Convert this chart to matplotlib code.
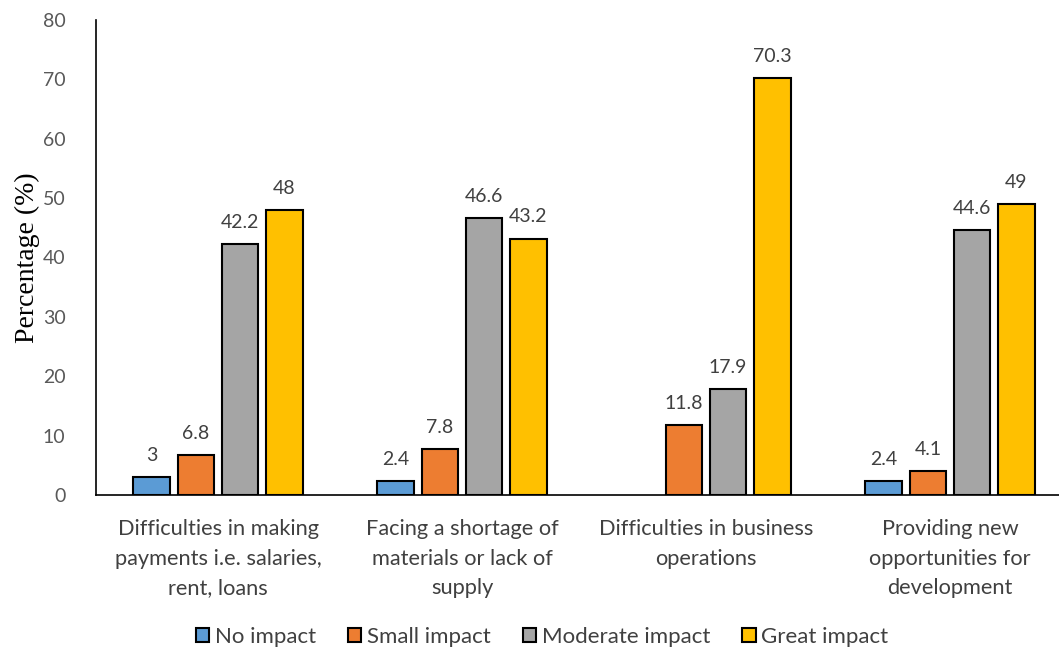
import matplotlib
matplotlib.use("Agg")
import matplotlib.pyplot as plt
import numpy as np

categories = ["Difficulties in making\npayments i.e. salaries,\nrent, loans",
              "Facing a shortage of\nmaterials or lack of\nsupply",
              "Difficulties in business\noperations",
              "Providing new\nopportunities for\ndevelopment"]
series_names = ["No impact", "Small impact", "Moderate impact", "Great impact"]
no_impact = [3, 2.4, None, 2.4]
small_impact = [6.8, 7.8, 11.8, 4.1]
moderate_impact = [42.2, 46.6, 17.9, 44.6]
great_impact = [48, 43.2, 70.3, 49]
colors = ["#5B9BD5", "#ED7D31", "#A5A5A5", "#FFC000"]
yticks = [0, 10, 20, 30, 40, 50, 60, 70, 80]

plt.rcParams['font.family'] = ['Lato', 'DejaVu Sans']

fig = plt.figure(figsize=(10.59, 6.49), dpi=100)
ax = fig.add_axes([96/1059, 154/649, 1 - 96/1059, (495-20)/649])

series = [no_impact, small_impact, moderate_impact, great_impact]
x = np.arange(len(categories))
step = 0.1816
width = 0.148
text_col = "#404040"
for i, (vals, name, c) in enumerate(zip(series, series_names, colors)):
    xs = x + (i - 1.5) * step
    for xi, v in zip(xs, vals):
        if v is None:
            continue
        ax.bar(xi, v, width=width, color=c, edgecolor="black", linewidth=1.5, zorder=3)
        ax.text(xi, v + 2.2, f"{v:g}", ha="center", va="bottom", fontsize=14, color=text_col)
    ax.bar([np.nan], [np.nan], width=width, color=c, edgecolor="black", linewidth=1.5, label=name)

ax.set_xlim(-0.5, -0.5 + 4 * (1059 - 96) / (4 * 244))
ax.set_ylim(0, 80)
ax.set_yticks(yticks)
ax.set_xticks(x)
ax.set_xticklabels(categories, fontsize=15.7, color=text_col, linespacing=1.62)
ax.tick_params(axis="y", length=0, labelsize=14, labelcolor="#595959", pad=22)
ax.tick_params(axis="x", length=0, pad=17)
for s in ["top", "right"]:
    ax.spines[s].set_visible(False)
ax.spines["left"].set_color("black")
ax.spines["bottom"].set_color("black")
ax.spines["left"].set_linewidth(1.2)
ax.spines["bottom"].set_linewidth(1.2)
ax.set_ylabel("Percentage (%)", fontsize=20, family="Liberation Serif", color="black", labelpad=2)

leg = fig.legend(loc="center", bbox_to_anchor=(542/1059, 1 - 637/649), ncol=4, frameon=False,
                 fontsize=16, handlelength=0.6, handleheight=0.6, handletextpad=0.25, columnspacing=1.45)
for t in leg.get_texts():
    t.set_color(text_col)

fig.savefig("out.png", dpi=100)
